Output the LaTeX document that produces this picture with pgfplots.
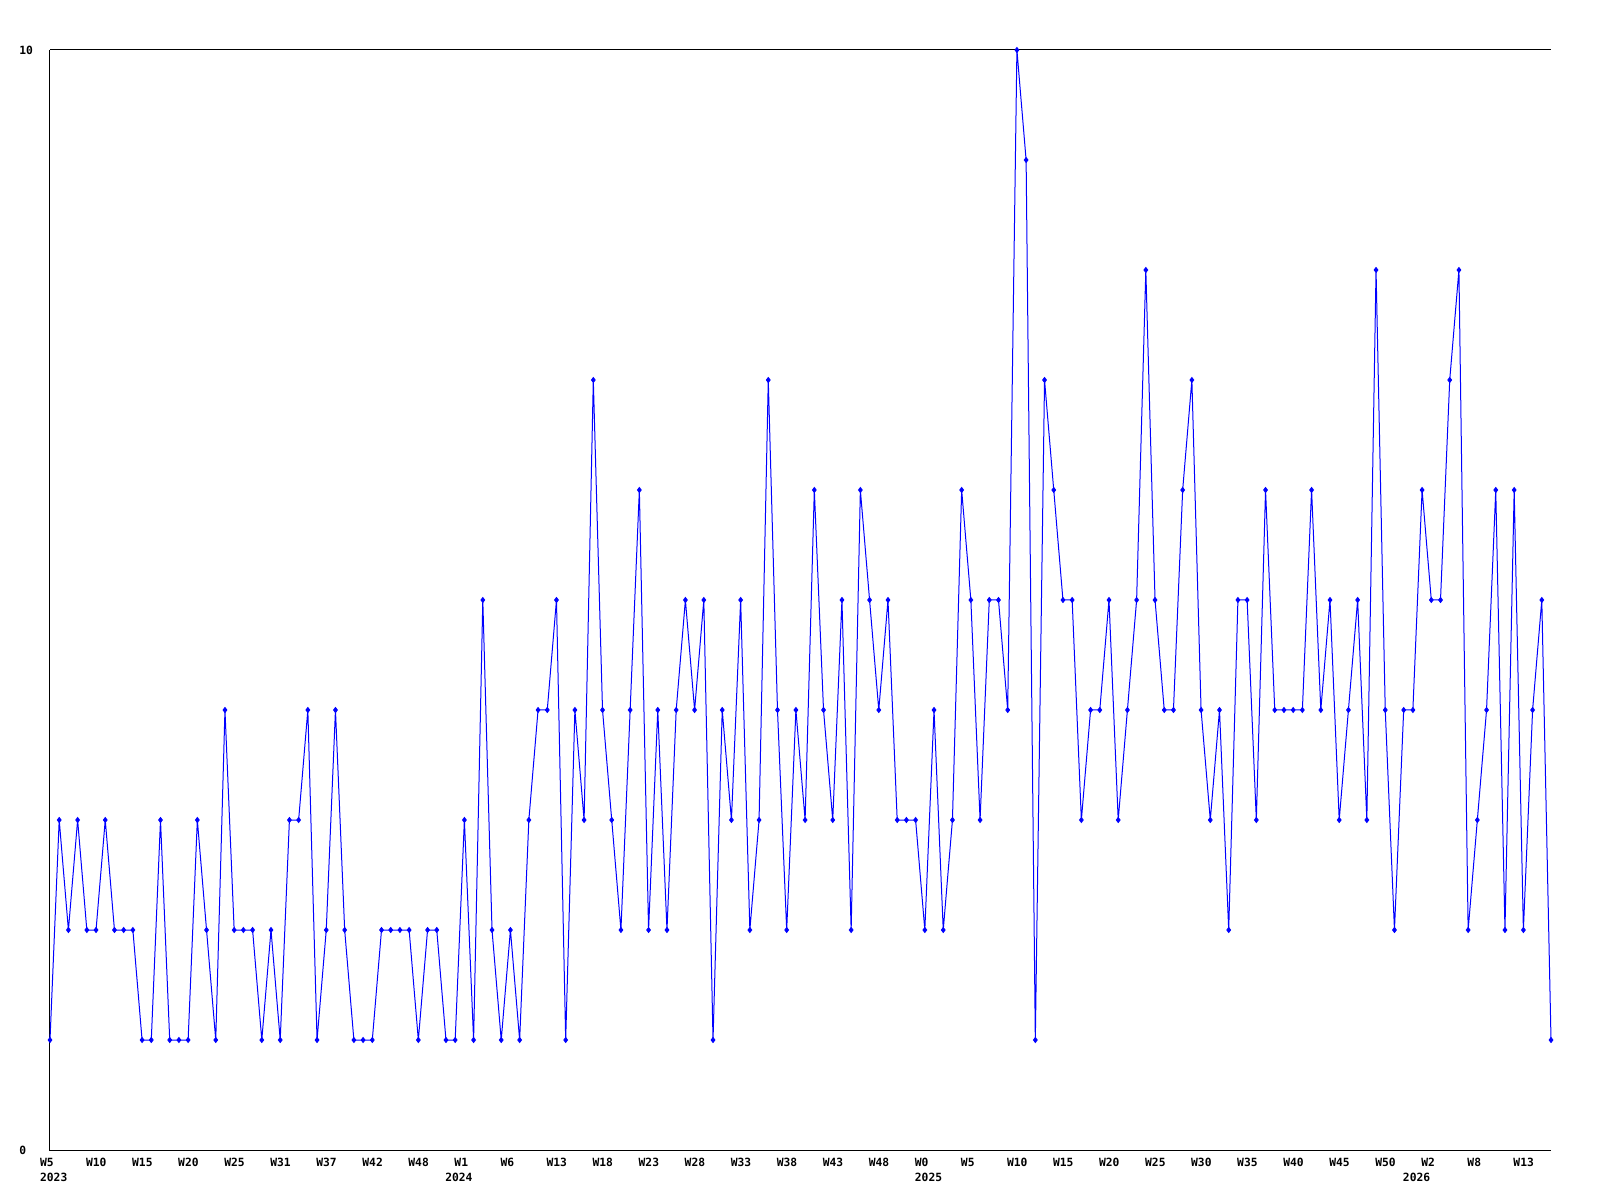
\documentclass[border=0pt]{standalone}
\usepackage{fontspec}
\usepackage{graphicx}
\usepackage{pgfplots}
\pgfplotsset{compat=1.18}
\newfontfamily\lblfont{DejaVu Sans Mono}
\newcommand\lf{\lblfont\bfseries\fontsize{5.65}{6}\selectfont}
\begin{document}
\begin{tikzpicture}
\path[use as bounding box] (-25pt,-25pt) rectangle (775pt,575pt);
\begin{axis}[
  at={(0,0)}, anchor=south west, scale only axis,
  width=750.5pt, height=550pt,
  xmin=0, xmax=163, ymin=0, ymax=10,
  axis line style={draw=none},
  major tick length=0pt,
  ytick={0,10}, yticklabels={0,10},
  yticklabel style={anchor=west, inner sep=0pt, xshift=-15.5pt, font=\lf},
  xtick={0,5,...,160},
  xticklabels={W5,W10,W15,W20,W25,W31,W37,W42,W48,W1,W6,W13,W18,W23,W28,W33,W38,W43,W48,W0,W5,W10,W15,W20,W25,W30,W35,W40,W45,W50,W2,W8,W13},
  xticklabel style={anchor=north west, inner sep=0pt, xshift=-5.15pt, yshift=-4pt, font=\lf},
  clip=false,
]
\draw[black, line width=0.5pt] (rel axis cs:0,1) -- (rel axis cs:0,0) -- (rel axis cs:1,0);
\draw[black, line width=0.5pt] (rel axis cs:0,1) -- (rel axis cs:1,1);
\addplot[color={rgb,255:red,0;green,0;blue,255}, line width=0.5pt, mark=diamond*, mark size=1.2pt, mark options={solid}] coordinates {
(0,1)(1,3)(2,2)(3,3)(4,2)(5,2)(6,3)(7,2)(8,2)(9,2)(10,1)(11,1)(12,3)(13,1)(14,1)(15,1)(16,3)(17,2)(18,1)(19,4)(20,2)
(21,2)(22,2)(23,1)(24,2)(25,1)(26,3)(27,3)(28,4)(29,1)(30,2)(31,4)(32,2)(33,1)(34,1)(35,1)(36,2)(37,2)(38,2)(39,2)(40,1)(41,2)
(42,2)(43,1)(44,1)(45,3)(46,1)(47,5)(48,2)(49,1)(50,2)(51,1)(52,3)(53,4)(54,4)(55,5)(56,1)(57,4)(58,3)(59,7)(60,4)(61,3)(62,2)
(63,4)(64,6)(65,2)(66,4)(67,2)(68,4)(69,5)(70,4)(71,5)(72,1)(73,4)(74,3)(75,5)(76,2)(77,3)(78,7)(79,4)(80,2)(81,4)(82,3)
(83,6)(84,4)(85,3)(86,5)(87,2)(88,6)(89,5)(90,4)(91,5)(92,3)(93,3)(94,3)(95,2)(96,4)(97,2)(98,3)(99,6)(100,5)(101,3)(102,5)(103,5)
(104,4)(105,10)(106,9)(107,1)(108,7)(109,6)(110,5)(111,5)(112,3)(113,4)(114,4)(115,5)(116,3)(117,4)(118,5)(119,8)(120,5)(121,4)(122,4)(123,6)
(124,7)(125,4)(126,3)(127,4)(128,2)(129,5)(130,5)(131,3)(132,6)(133,4)(134,4)(135,4)(136,4)(137,6)(138,4)(139,5)(140,3)(141,4)(142,5)(143,3)(144,8)
(145,4)(146,2)(147,4)(148,4)(149,6)(150,5)(151,5)(152,7)(153,8)(154,2)(155,3)(156,4)(157,6)(158,2)(159,6)(160,2)(161,4)(162,5)(163,1)
};
\node[anchor=north west, inner sep=0pt, font=\lf] at ([xshift=-5.15pt, yshift=-11.5pt]axis cs:0,0) {2023};
\node[anchor=north west, inner sep=0pt, font=\lf] at ([xshift=-5.15pt, yshift=-11.5pt]axis cs:44,0) {2024};
\node[anchor=north west, inner sep=0pt, font=\lf] at ([xshift=-5.15pt, yshift=-11.5pt]axis cs:95,0) {2025};
\node[anchor=north west, inner sep=0pt, font=\lf] at ([xshift=-5.15pt, yshift=-11.5pt]axis cs:148,0) {2026};
\end{axis}
\end{tikzpicture}
\end{document}
